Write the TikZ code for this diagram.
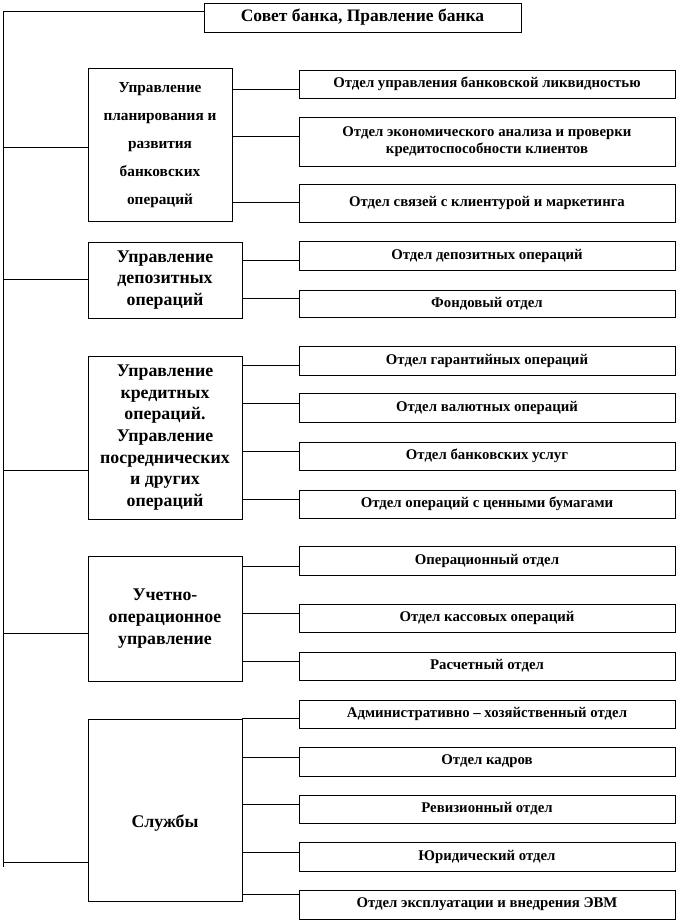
\documentclass[tikz,border=0pt]{standalone}
\usepackage{fontspec}
\setmainfont{Liberation Serif}
\begin{document}
\begin{tikzpicture}[x=1pt,y=-1pt,
  every node/.style={font=\bfseries},
  box/.style={draw,line width=0.8pt,inner sep=2pt,align=center},
  rbox/.style={box,minimum width=376pt,font=\bfseries\fontsize{14.8}{16.5}\selectfont},
  lbox/.style={box,minimum width=154pt,font=\bfseries\fontsize{17.8}{21.7}\selectfont},
  conn/.style={line width=0.8pt}]
\useasboundingbox (0,0) rectangle (676,922);
% top
\node[box,minimum width=317pt,minimum height=29pt,font=\bfseries\fontsize{17.5}{20}\selectfont] (top) at (362.5,17.5) {Совет банка, Правление банка};
% left boxes
\node[box,minimum width=144pt,minimum height=153pt,font=\bfseries\fontsize{15.3}{28}\selectfont] (b1) at (160,145) {Управление\\планирования и\\развития\\банковских\\операций};
\node[lbox,minimum height=76pt] (b2) at (165,280) {Управление\\депозитных\\операций};
\node[lbox,minimum height=163pt] (b3) at (165,437.5) {Управление\\кредитных\\операций.\\Управление\\посреднических\\и других\\операций};
\node[lbox,minimum height=125pt] (b4) at (165,618.5) {Учетно-\\операционное\\управление};
\node[lbox,minimum height=182pt] (b5) at (165,810) {\smash{\raisebox{-17pt}{Службы}}};
% right boxes
\node[rbox,minimum height=28pt] (r1) at (487,84) {Отдел управления банковской ликвидностью};
\node[rbox,minimum height=49pt] (r2) at (487,141.5) {Отдел экономического анализа и проверки\\кредитоспособности клиентов};
\node[rbox,minimum height=38pt] (r3) at (487,203) {Отдел связей с клиентурой и маркетинга};
\node[rbox,minimum height=29pt] (r4) at (487,256) {Отдел депозитных операций};
\node[rbox,minimum height=27pt] (r5) at (487,303.5) {Фондовый отдел};
\node[rbox,minimum height=29pt] (r6) at (487,361) {Отдел гарантийных операций};
\node[rbox,minimum height=29pt] (r7) at (487,408) {Отдел валютных операций};
\node[rbox,minimum height=28pt] (r8) at (487,456) {Отдел банковских услуг};
\node[rbox,minimum height=28pt] (r9) at (487,504) {Отдел операций с ценными бумагами};
\node[rbox,minimum height=29pt] (r10) at (487,560.5) {Операционный отдел};
\node[rbox,minimum height=28pt] (r11) at (487,618) {Отдел кассовых операций};
\node[rbox,minimum height=28pt] (r12) at (487,666) {Расчетный отдел};
\node[rbox,minimum height=28pt] (r13) at (487,714) {Административно – хозяйственный отдел};
\node[rbox,minimum height=29pt] (r14) at (487,761.5) {Отдел кадров};
\node[rbox,minimum height=28pt] (r15) at (487,809) {Ревизионный отдел};
\node[rbox,minimum height=29pt] (r16) at (487,856.5) {Юридический отдел};
\node[rbox,minimum height=29pt] (r17) at (487,904.5) {Отдел эксплуатации и внедрения ЭВМ};
% spine
\coordinate (st) at (3.5,11);
\coordinate (sb) at (3.5,867);
\draw[conn] (top.west |- st) -- (st) -- (sb);
\foreach \b/\y in {b1/147,b2/279,b3/470,b4/633,b5/862}
  \draw[conn] (\b.west |- 0,\y) -- (st |- 0,\y);
\foreach \b/\r/\y in {b1/r1/89,b1/r2/136,b1/r3/202,b2/r4/260,b2/r5/298,b3/r6/365,b3/r7/403,b3/r8/451,b3/r9/499,b4/r10/566,b4/r11/613,b4/r12/661,b5/r13/718,b5/r14/757,b5/r15/804,b5/r16/852,b5/r17/894}
  \draw[conn] (\b.east |- 0,\y) -- (\r.west |- 0,\y);
\end{tikzpicture}
\end{document}
